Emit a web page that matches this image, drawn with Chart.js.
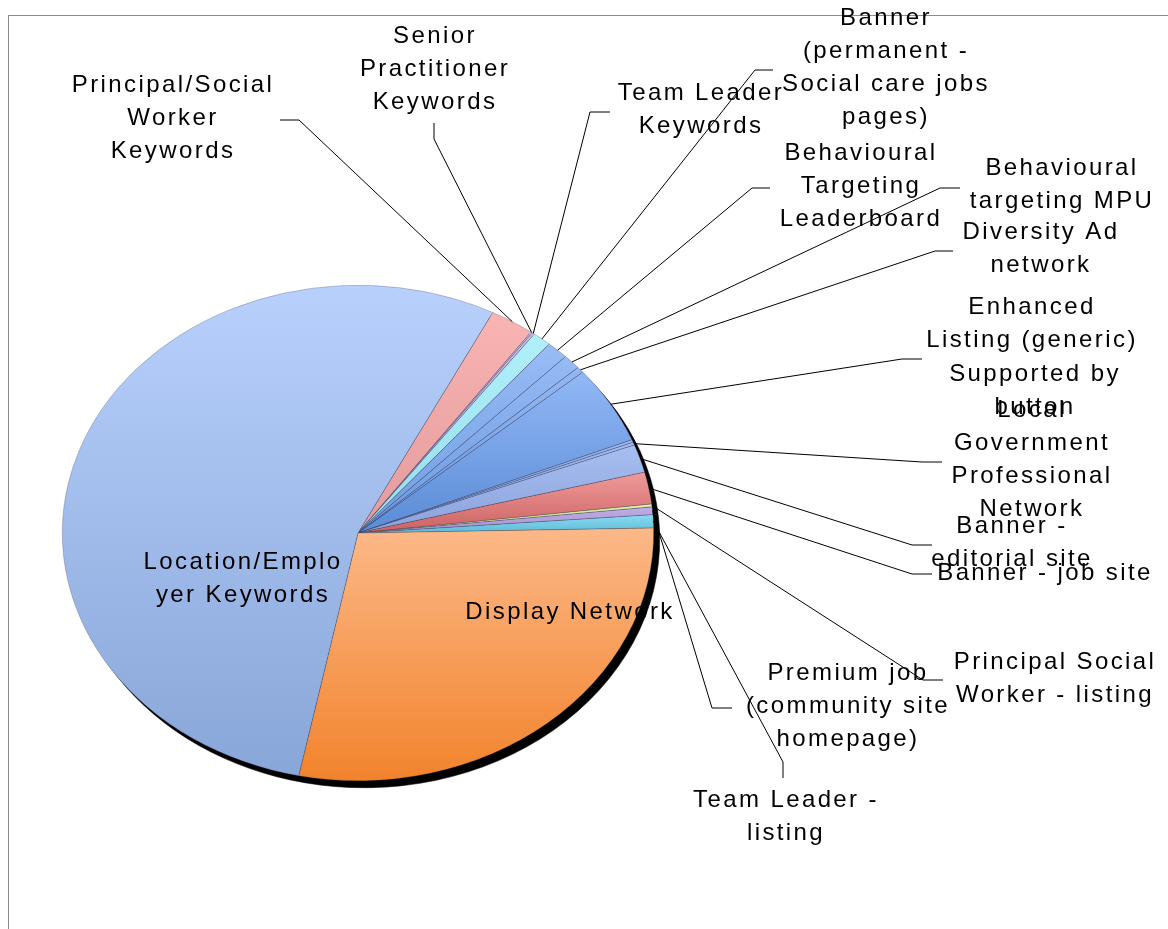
<!DOCTYPE html>
<html>
<head>
<meta charset="utf-8">
<script src="https://cdn.jsdelivr.net/npm/chart.js@4.4.1/dist/chart.umd.min.js"></script>
<style>
  html, body { margin: 0; padding: 0; background: #fff; }
  canvas { display: block; }
</style>
</head>
<body>
<canvas id="spend" width="1168" height="929"></canvas>
<script>
// slices, clockwise starting from Principal/Social Worker Keywords
var categories = [
  'Principal/Social Worker Keywords', 'Senior Practitioner Keywords', 'Team Leader Keywords',
  'Banner (permanent - Social care jobs pages)', 'Behavioural Targeting Leaderboard',
  'Behavioural targeting MPU', 'Diversity Ad network', 'Enhanced Listing (generic)',
  'Supported by button', 'Local Government Professional Network', 'Banner - editorial site',
  'Banner - job site', 'Principal Social Worker - listing', 'Premium job (community site homepage)',
  'Team Leader - listing', 'Display Network', 'Location/Employer Keywords'
];
// share of spend, %
var shares = [2.42, 0.08, 0.14, 1.03, 1.19, 0.97, 0.39, 5.11, 0.17, 0.19, 1.83, 2.08, 0.19, 0.50, 0.86, 28.53, 54.31];

// gradient colours of each slice (top -> bottom)
var topColours = ['#f9b4b4', '#d2c6ee', '#c9bde8', '#b0f0fa', '#98bcf6', '#96baf5', '#94b8f4', '#92b8f6',
                  '#9ab8f0', '#a2bcf2', '#a8bff2', '#f09a9a', '#dcf0a8', '#c0aee6', '#8adcf2', '#fcb888', '#b8d0fc'];
var bottomColours = ['#e49a9a', '#b8a8dc', '#b0a0d8', '#96dcec', '#6e9ce0', '#6a98de', '#6896dc', '#5a8bd6',
                     '#7a9ce0', '#84a0e0', '#8aa2da', '#cc6262', '#c8e090', '#a690d0', '#5ebad6', '#f2832c', '#88a6d8'];

// label text, wrapped as in the original
var labelLines = [
  ['Principal/Social', 'Worker', 'Keywords'],
  ['Senior', 'Practitioner', 'Keywords'],
  ['Team Leader', 'Keywords'],
  ['Banner', '(permanent -', 'Social care jobs', 'pages)'],
  ['Behavioural', 'Targeting', 'Leaderboard'],
  ['Behavioural', 'targeting MPU'],
  ['Diversity Ad', 'network'],
  ['Enhanced', 'Listing (generic)'],
  ['Supported by', 'button'],
  ['Local', 'Government', 'Professional', 'Network'],
  ['Banner -', 'editorial site'],
  ['Banner - job site'],
  ['Principal Social', 'Worker - listing'],
  ['Premium job', '(community site', 'homepage)'],
  ['Team Leader -', 'listing'],
  ['Display Network'],
  ['Location/Emplo', 'yer Keywords']
];

// label placement (layout only): centre x, first line y, leader elbow x/y, leader end x/y
var labelLayout = [
  [173, 85, 299, 120, 280, 120],
  [435, 36, 434, 139, 434, 123],
  [701, 93, 590, 112, 610, 112],
  [886, 18, 755, 70, 773, 70],
  [861, 153, 752, 188, 770, 188],
  [1062, 168, 940, 188, 960, 188],
  [1041, 232, 935, 251, 953, 251],
  [1032, 307, 902, 359, 922, 359],
  [1035, 374],
  [1032, 410, 922, 462, 942, 462],
  [1012, 526, 912, 545, 932, 545],
  [1045, 573, 912, 574, 932, 574],
  [1055, 662, 923, 680, 943, 680],
  [848, 673, 712, 708, 732, 708],
  [786, 800, 783, 762, 783, 778],
  [570, 612],
  [243, 562]
];

var SQUASH = 248 / 296;   // the original pie is an ellipse
var LINE_H = 33;

function sliceGradient(ctx, arc, i) {
  var p = arc.getProps(['x', 'y', 'startAngle', 'endAngle', 'outerRadius']);
  var ys = [p.y, p.y + p.outerRadius * Math.sin(p.startAngle), p.y + p.outerRadius * Math.sin(p.endAngle)];
  [-Math.PI / 2, Math.PI / 2].forEach(function(a) {
    for (var k = -2; k <= 2; k++) {
      var t = a + 2 * Math.PI * k;
      if (t > p.startAngle && t < p.endAngle) ys.push(p.y + p.outerRadius * Math.sin(t));
    }
  });
  var top = Math.min.apply(null, ys), bot = Math.max.apply(null, ys);
  var g = ctx.createLinearGradient(0, top, 0, bot + 0.01);
  g.addColorStop(0, topColours[i]);
  g.addColorStop(1, bottomColours[i]);
  return g;
}

var excelPie = {
  id: 'excelPie',
  beforeDraw(chart) {
    var ctx = chart.ctx;
    ctx.save();
    ctx.strokeStyle = '#8c8c8c';
    ctx.lineWidth = 1;
    ctx.strokeRect(8.5, 15.5, 1300, 1000);
    ctx.restore();
  },
  beforeDatasetsDraw(chart) {
    var ctx = chart.ctx, meta = chart.getDatasetMeta(0);
    var cx = meta.data[0].x, cy = meta.data[0].y;
    // hard drop shadow
    ctx.save();
    ctx.translate(cx + 6, cy + 7);
    ctx.scale(1, SQUASH);
    ctx.translate(-cx, -cy);
    meta.data.forEach(function(arc) {
      var o = arc.options;
      arc.options = Object.assign({}, o, { backgroundColor: '#000', borderColor: '#000' });
      arc.draw(ctx);
      arc.options = o;
    });
    ctx.restore();
    meta.data.forEach(function(arc, i) {
      arc.options = Object.assign({}, arc.options, { backgroundColor: sliceGradient(ctx, arc, i) });
    });
    ctx.save();
    ctx.translate(cx, cy);
    ctx.scale(1, SQUASH);
    ctx.translate(-cx, -cy);
  },
  afterDatasetsDraw(chart) {
    chart.ctx.restore();
  },
  afterDraw(chart) {
    var ctx = chart.ctx, meta = chart.getDatasetMeta(0);
    ctx.save();
    ctx.strokeStyle = '#000';
    ctx.lineWidth = 1;
    meta.data.forEach(function(arc, i) {
      var L = labelLayout[i];
      if (L.length < 6) return;
      var p = arc.getProps(['x', 'y', 'startAngle', 'endAngle', 'outerRadius']);
      var mid = (p.startAngle + p.endAngle) / 2;
      var ex = p.x + p.outerRadius * Math.cos(mid);
      var ey = p.y + p.outerRadius * Math.sin(mid) * SQUASH;
      ctx.beginPath();
      ctx.moveTo(ex, ey);
      ctx.lineTo(L[2], L[3]);
      ctx.lineTo(L[4], L[5]);
      ctx.stroke();
    });
    ctx.fillStyle = '#000';
    ctx.font = '24px "Liberation Sans", Arial, sans-serif';
    ctx.letterSpacing = '2.4px';
    ctx.textAlign = 'center';
    ctx.textBaseline = 'middle';
    labelLines.forEach(function(lines, i) {
      var L = labelLayout[i];
      lines.forEach(function(t, j) {
        ctx.fillText(t, L[0], L[1] + j * LINE_H);
      });
    });
    ctx.restore();
  }
};

new Chart('spend', {
  type: 'pie',
  data: {
    labels: categories,
    datasets: [{
      data: shares,
      backgroundColor: topColours,
      borderColor: 'rgba(60, 60, 90, 0.5)',
      borderWidth: 0.6
    }]
  },
  options: {
    responsive: false,
    animation: false,
    rotation: 27.1,
    layout: { padding: { left: 62, right: 514, top: 237, bottom: 100 } },
    plugins: {
      legend: { display: false },
      tooltip: { enabled: false }
    }
  },
  plugins: [excelPie]
});
</script>
</body>
</html>
